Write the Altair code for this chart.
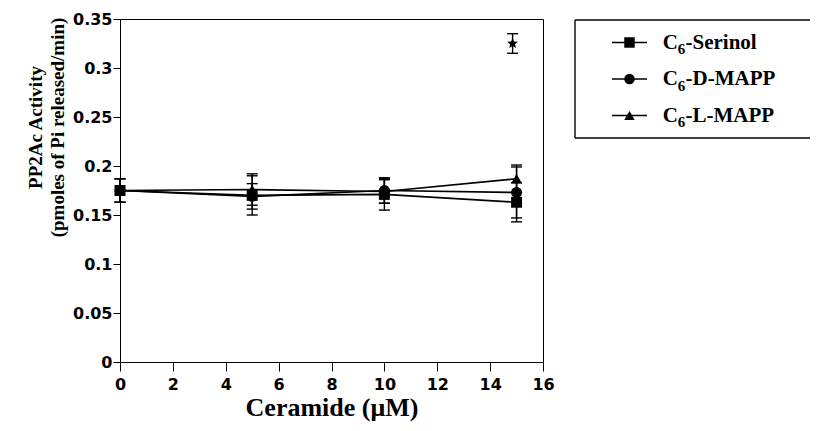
import math
import pandas as pd
import altair as alt

# ---------------- data ----------------
concentration = [0, 5, 10, 15]
series_names = ["C6-Serinol", "C6-D-MAPP", "C6-L-MAPP"]
serinol = [0.175, 0.170, 0.171, 0.163]
serinol_err = [0.012, 0.020, 0.016, 0.020]
d_mapp = [0.175, 0.169, 0.175, 0.173]
d_mapp_err = [0.012, 0.013, 0.013, 0.026]
l_mapp = [0.175, 0.176, 0.174, 0.187]
l_mapp_err = [0.012, 0.016, 0.012, 0.014]
star_conc = [14.85]
star_value = [0.325]
star_err = [0.010]
x_ticks = [0, 2, 4, 6, 8, 10, 12, 14, 16]
y_ticks = [0, 0.05, 0.1, 0.15, 0.2, 0.25, 0.3, 0.35]
shapes = ["square", "circle", "triangle-up"]

values = [serinol, d_mapp, l_mapp]
errors = [serinol_err, d_mapp_err, l_mapp_err]

rows = []
# reversed so that squares are drawn last (on top)
for i in reversed(range(len(series_names))):
    for j, c in enumerate(concentration):
        v = values[i][j]
        e = errors[i][j]
        rows.append({"series": series_names[i], "conc": c, "act": v,
                     "lo": v - e, "hi": v + e})
df = pd.DataFrame(rows)

star_df = pd.DataFrame({"conc": star_conc, "act": star_value,
                        "lo": [v - e for v, e in zip(star_value, star_err)],
                        "hi": [v + e for v, e in zip(star_value, star_err)]})

# star symbol path (unit box)
pts = []
for k in range(10):
    ang = math.radians(-90 + 36 * k)
    r = 1.0 if k % 2 == 0 else 0.45
    pts.append(f"{r * math.cos(ang):.3f},{r * math.sin(ang):.3f}")
star_path = "M" + " L".join(pts) + " Z"

shape_scale = alt.Scale(domain=series_names, range=shapes)

xscale = alt.Scale(domain=[0, 16], nice=False)
yscale = alt.Scale(domain=[0, 0.35], nice=False)

SERIF = "Liberation Serif"
SANS = "DejaVu Sans"

x_axis = alt.Axis(values=x_ticks, tickSize=9, labelPadding=5, labelFlush=False,
                  labelFont=SANS, labelFontWeight="bold", labelFontSize=16,
                  title="Ceramide (μM)", titleFont=SERIF, titleFontSize=26,
                  titleFontWeight="bold", titleY=53, titleBaseline="alphabetic")
y_axis = alt.Axis(values=y_ticks, format="~g", tickSize=7, labelPadding=1,
                  labelFont=SANS, labelFontWeight="bold", labelFontSize=16,
                  title=["PP2Ac Activity", "(pmoles of Pi released/min)"],
                  titleFont=SERIF, titleFontSize=19, titleFontWeight="bold",
                  titleAngle=-90, titleX=-79, titleY=108, titleAlign="center",
                  titleBaseline="alphabetic", titleLineHeight=22)

X = alt.X("conc:Q", scale=xscale, axis=x_axis)
base = alt.Chart(df)

LW = 1.7
EW = 1.4

lines = base.mark_line(color="black", strokeWidth=LW).encode(
    x=X,
    y=alt.Y("act:Q", scale=yscale, axis=y_axis),
    detail="series:N",
)

err = base.mark_rule(color="black", strokeWidth=EW).encode(
    x=X, y=alt.Y("lo:Q", scale=yscale), y2="hi:Q")
cap_lo = base.mark_rule(color="black", strokeWidth=EW, xOffset=-5.5, x2Offset=5.5).encode(
    x=X, x2="conc:Q", y=alt.Y("lo:Q", scale=yscale))
cap_hi = base.mark_rule(color="black", strokeWidth=EW, xOffset=-5.5, x2Offset=5.5).encode(
    x=X, x2="conc:Q", y=alt.Y("hi:Q", scale=yscale))

points = base.mark_point(filled=True, color="black", opacity=1, size=120).encode(
    x=X, y=alt.Y("act:Q", scale=yscale),
    shape=alt.Shape("series:N", scale=shape_scale, legend=None),
)

sbase = alt.Chart(star_df)
s_err = sbase.mark_rule(color="black", strokeWidth=EW).encode(
    x=X, y=alt.Y("lo:Q", scale=yscale), y2="hi:Q")
s_lo = sbase.mark_rule(color="black", strokeWidth=EW, xOffset=-5.5, x2Offset=5.5).encode(
    x=X, x2="conc:Q", y=alt.Y("lo:Q", scale=yscale))
s_hi = sbase.mark_rule(color="black", strokeWidth=EW, xOffset=-5.5, x2Offset=5.5).encode(
    x=X, x2="conc:Q", y=alt.Y("hi:Q", scale=yscale))
s_pt = sbase.mark_point(filled=True, color="black", opacity=1, size=130,
                        shape=star_path).encode(x=X, y=alt.Y("act:Q", scale=yscale))

# ---------------- manual legend (layout in pixels) ----------------
one = pd.DataFrame({"a": [0]})
BX0, BX1, BY0, BY1 = 455, 690, 1, 119
lb = alt.Chart(one)
legend_layers = [
    lb.mark_rule(color="black", strokeWidth=1.4).encode(
        x=alt.value(BX0), x2=alt.value(BX1), y=alt.value(BY0)),
    lb.mark_rule(color="black", strokeWidth=1.4).encode(
        x=alt.value(BX0), x2=alt.value(BX1), y=alt.value(BY1)),
    lb.mark_rule(color="black", strokeWidth=1.4).encode(
        x=alt.value(BX0), y=alt.value(BY0), y2=alt.value(BY1)),
]
for i, name in enumerate(series_names):
    ly = 23.5 + 36.5 * i
    lc = alt.Chart(one)
    legend_layers += [
        lc.mark_rule(color="black", strokeWidth=LW).encode(
            x=alt.value(492), x2=alt.value(527), y=alt.value(ly)),
        lc.mark_point(filled=True, color="black", opacity=1, size=110,
                      shape=shapes[i]).encode(x=alt.value(509.5), y=alt.value(ly)),
        lc.mark_text(text=name[0], align="left", baseline="alphabetic",
                     font=SERIF, fontSize=21, fontWeight="bold", color="black").encode(
            x=alt.value(542.7), y=alt.value(ly + 6)),
        lc.mark_text(text=name[1], align="left", baseline="alphabetic",
                     font=SERIF, fontSize=15, fontWeight="bold", color="black").encode(
            x=alt.value(557.8), y=alt.value(ly + 11.5)),
        lc.mark_text(text=name[2:], align="left", baseline="alphabetic",
                     font=SERIF, fontSize=21, fontWeight="bold", color="black").encode(
            x=alt.value(565.5), y=alt.value(ly + 6)),
    ]

chart = alt.layer(
    lines, err, cap_lo, cap_hi, points, s_err, s_lo, s_hi, s_pt, *legend_layers
).properties(
    width=423, height=343,
    autosize=alt.AutoSizeParams(type="none"),
    padding={"left": 112, "top": 11, "right": 267, "bottom": 60},
    background="white",
).configure_view(stroke="black", strokeWidth=1).configure_axis(
    domainColor="black", tickColor="black", labelColor="black",
    titleColor="black", grid=False, domainWidth=1, tickWidth=1,
)

chart.save("out.html", embed_options={"renderer": "svg", "actions": False})
